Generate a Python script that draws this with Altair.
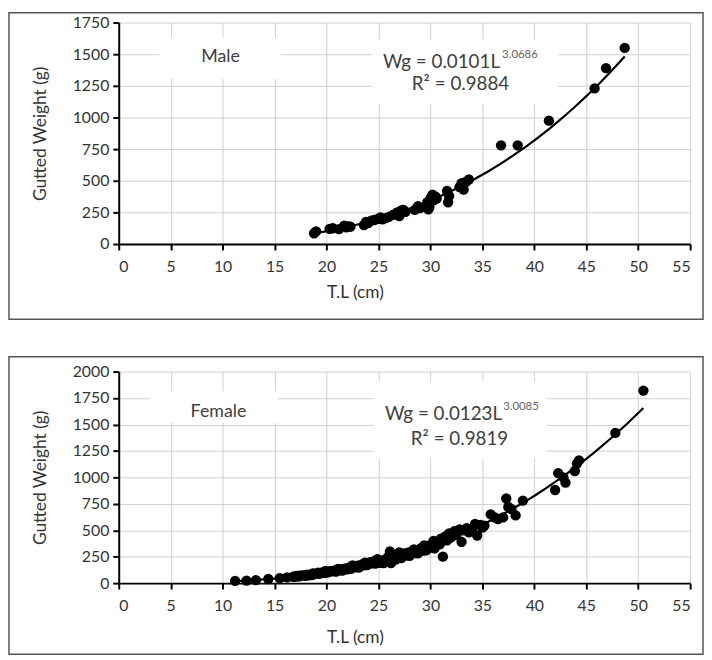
import altair as alt
import pandas as pd

# ---------------- data ----------------
male_L = [18.8, 19.0, 20.3, 20.6, 21.2, 21.7, 21.9, 22.1, 22.3, 23.6, 23.8, 24.0, 24.3, 24.6,
          25.0, 25.2, 25.4, 25.7, 26.0, 26.4, 26.8, 27.0, 27.2, 27.4, 27.6, 28.5, 28.8, 29.0,
          29.7, 29.9, 30.0, 30.1, 30.2, 30.3, 30.5, 29.8, 30.6, 31.6, 31.7, 31.8, 32.8, 33.0,
          33.2, 33.4, 33.7, 36.8, 38.4, 41.4, 45.8, 46.9, 48.7]
male_W = [85, 100, 120, 125, 118, 145, 132, 140, 137, 150, 175, 165, 185, 190,
          200, 210, 195, 205, 215, 230, 250, 220, 265, 270, 255, 270, 300, 285,
          330, 290, 360, 370, 390, 345, 375, 275, 360, 420, 330, 380, 450, 480,
          430, 490, 510, 780, 780, 975, 1230, 1390, 1550]

fem_L = [11.2, 12.3, 13.2, 14.4, 15.5, 16.2, 16.8, 17.0, 17.1, 17.3, 17.4, 17.6, 17.9, 18.0,
         18.1, 18.3, 18.5, 18.6, 18.7, 18.8, 19.0, 19.2, 19.3, 19.4, 19.6, 19.8, 19.9, 20.0,
         20.1, 20.2, 20.4, 20.6, 20.8, 20.9, 21.0, 21.1, 21.2, 21.4, 21.5, 21.6, 21.8, 22.0,
         22.2, 22.3, 22.4, 22.5, 22.6, 22.8, 23.0, 23.1, 23.2, 23.4, 23.6, 23.7, 23.8, 23.9,
         24.0, 24.2, 24.4, 24.6, 24.7, 24.8, 24.9, 25.0, 25.2, 25.4, 25.5, 25.6, 25.8, 25.9,
         26.0, 26.1, 26.2, 26.3, 26.4, 26.5, 26.7, 26.9, 27.0, 27.1, 27.2, 27.3, 27.5, 27.7,
         27.9, 28.0, 28.1, 28.3, 28.4, 28.5, 28.7, 28.8, 28.9, 29.1, 29.3, 29.4, 29.5, 29.6,
         29.7, 29.9, 30.1, 30.3, 30.4, 30.5, 30.7, 30.9, 31.0, 31.2, 31.4, 31.6, 31.8, 32.0,
         32.1, 32.3, 32.5, 32.8, 33.0, 33.2, 33.5, 33.7, 34.0, 34.3, 34.5, 34.8, 35.0, 35.2,
         35.8, 36.2, 36.5, 37.0, 37.3, 37.5, 37.8, 38.2, 38.9, 42.0, 42.3, 42.8, 43.0, 43.9,
         44.1, 44.3, 47.8, 50.5]
fem_W = [21, 24, 29, 39, 47, 54, 60, 66, 62, 70, 65, 73, 75, 69,
         80, 73, 83, 77, 92, 86, 90, 98, 88, 96, 101, 94, 115, 107,
         103, 105, 116, 111, 120, 109, 113, 134, 123, 132, 118, 124, 139, 130,
         149, 135, 141, 168, 158, 150, 165, 148, 156, 176, 169, 194, 187, 171,
         180, 198, 188, 208, 184, 197, 226, 205, 192, 214, 190, 204, 228, 246,
         214, 300, 190, 262, 214, 244, 226, 262, 290, 254, 236, 250, 280, 262,
         290, 258, 274, 300, 318, 284, 310, 282, 298, 330, 308, 356, 338, 310,
         324, 356, 336, 400, 330, 352, 380, 366, 420, 250, 440, 404, 470, 432,
         470, 490, 456, 508, 390, 500, 520, 480, 512, 560, 450, 550, 526, 544,
         650, 620, 606, 622, 800, 720, 700, 640, 780, 880, 1040, 1000, 950, 1060,
         1130, 1160, 1420, 1820]

x_ticks = list(range(0, 56, 5))
male_y_ticks = list(range(0, 1751, 250))
fem_y_ticks = list(range(0, 2001, 250))

male_labels = {"sex": "Male", "eq": "Wg = 0.0101L", "sup": "3.0686", "r2": "R² = 0.9884"}
fem_labels = {"sex": "Female", "eq": "Wg = 0.0123L", "sup": "3.0085", "r2": "R² = 0.9819"}

FONT = "Lato"
TXT = "#404040"


def panel(L, W, ymax, yticks, height, labels, pos, boxes, border, title_y):
    df = pd.DataFrame({"L": L, "W": W})
    xs = alt.X("L:Q", scale=alt.Scale(domain=[0, 55], nice=False),
               axis=alt.Axis(values=x_ticks, format="d", title="T.L (cm)", labelPadding=9,
                             labelOverlap=False, titleX=239, titleY=title_y,
                             titleBaseline="middle"))
    ys = alt.Y("W:Q", scale=alt.Scale(domain=[0, ymax], nice=False),
               axis=alt.Axis(values=yticks, format="d", title="Gutted Weight (g)",
                             labelPadding=4, labelOverlap=False,
                             titleX=-79, titleY=height / 2, titleBaseline="middle"))

    one = pd.DataFrame({"a": [0]})
    frame = alt.Chart(one).mark_rect(fillOpacity=0, stroke="#555555", strokeWidth=1.5).encode(
        x=alt.value(border[0]), x2=alt.value(border[1]),
        y=alt.value(border[2]), y2=alt.value(border[3]))

    base = alt.Chart(df)
    pts = base.mark_circle(size=110, color="black", opacity=1).encode(x=xs, y=ys)
    fit = base.transform_regression("L", "W", method="pow",
                                    extent=[min(L), max(L)]).mark_line(
        color="black", strokeWidth=2.2).encode(x=xs, y=ys)

    layers = [frame]
    for b in boxes:
        layers.append(alt.Chart(one).mark_rect(fill="white").encode(
            x=alt.value(b[0]), x2=alt.value(b[1]), y=alt.value(b[2]), y2=alt.value(b[3])))
    layers += [pts, fit]

    def txt(key, size, align, color):
        d = pd.DataFrame({"L": [pos[key][0]], "W": [pos[key][1]], "t": [labels[key]]})
        return alt.Chart(d).mark_text(fontSize=size, font=FONT, align=align,
                                      baseline="middle", color=color).encode(
            x=xs, y=ys, text="t:N")

    layers += [txt("sex", 18, "center", TXT), txt("eq", 19, "right", TXT),
               txt("sup", 11.5, "left", "#666666"), txt("r2", 19, "center", TXT)]
    return alt.layer(*layers).properties(width=578, height=height)


top = panel(male_L, male_W, 1750, male_y_ticks, 224, male_labels,
            {"sex": (9.8, 1477), "eq": (36.7, 1437), "sup": (36.9, 1490), "r2": (32.9, 1266)},
            [(41, 164, 15, 57), (256, 444, 17, 82)],
            (-111, 591, -10, 300), 49)
bottom = panel(fem_L, fem_W, 2000, fem_y_ticks, 214, fem_labels,
               {"sex": (9.6, 1617), "eq": (36.9, 1598), "sup": (37.0, 1660), "r2": (32.8, 1365)},
               [(31, 161, 20, 52), (258, 433, 10, 88)],
               (-111, 591, -15, 286), 55)

chart = alt.vconcat(top, bottom, spacing=36).properties(padding=0).configure_view(
    strokeWidth=0
).configure_axis(
    gridColor="#cfcfcf", gridWidth=1, domainColor="black", domainWidth=2,
    tickColor="black", tickWidth=2, tickSize=6,
    labelFont=FONT, labelFontSize=16, labelColor="#333333",
    titleFont=FONT, titleFontSize=17.5, titleFontWeight="normal", titleColor="#333333"
)

chart.save("out.html", embed_options={"renderer": "svg", "actions": False})
